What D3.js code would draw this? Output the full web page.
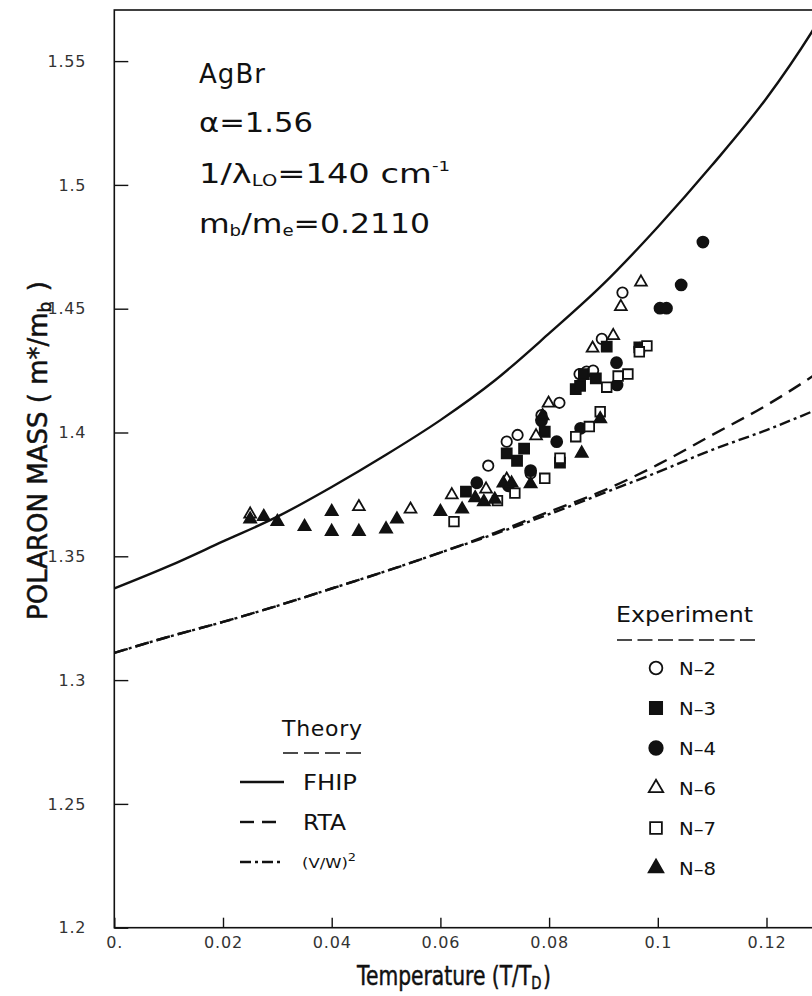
<!DOCTYPE html>
<html>
<head>
  <meta charset="UTF-8" />
  <title>AgBr polaron mass</title>
  <script src="https://d3js.org/d3.v7.min.js"></script>
  <style>
    body { margin: 0; background: #fff; }
    svg { display: block; }
    .cond { font-family: "DejaVu Sans", sans-serif; }
  </style>
</head>
<body>
  <div id="chart"></div>
  <script>
    // theory curves, sampled along T/T_D
    const curveT = [0, 0.01, 0.02, 0.03, 0.04, 0.05, 0.06, 0.07, 0.08, 0.09, 0.1, 0.11, 0.12, 0.1284, 0.132];
    const fhip   = [1.337, 1.346, 1.356, 1.366, 1.378, 1.391, 1.405, 1.421, 1.440, 1.460, 1.483, 1.508, 1.535, 1.562, 1.575];
    const rta    = [1.311, 1.3175, 1.3235, 1.330, 1.337, 1.344, 1.3515, 1.3595, 1.368, 1.3765, 1.387, 1.399, 1.411, 1.4226, 1.428];
    const vw2    = [1.311, 1.3175, 1.3235, 1.330, 1.337, 1.344, 1.3515, 1.359, 1.367, 1.3755, 1.384, 1.393, 1.401, 1.4085, 1.412];

    // experiment points [T/T_D, m*/m_b]
    const n2 = [[0.0935, 1.4565], [0.0897, 1.4378], [0.0856, 1.4236], [0.0869, 1.4246], [0.0881, 1.4250],
                [0.0819, 1.4120], [0.0786, 1.4070], [0.0742, 1.3990], [0.0722, 1.3963], [0.0688, 1.3866], [0.0766, 1.3835]];
    const n3 = [[0.0906, 1.4347], [0.0966, 1.4344], [0.0864, 1.4236], [0.0886, 1.4219], [0.0849, 1.4175],
                [0.0857, 1.4188], [0.0792, 1.4003], [0.0754, 1.3935], [0.0722, 1.3916], [0.0741, 1.3886],
                [0.0820, 1.3878], [0.0647, 1.3761]];
    const n4 = [[0.1083, 1.4769], [0.1043, 1.4596], [0.1004, 1.4502], [0.1016, 1.4502], [0.0967, 1.4341],
                [0.0924, 1.4282], [0.0925, 1.4192], [0.0858, 1.4017], [0.0814, 1.3963], [0.0786, 1.4048],
                [0.0766, 1.3846], [0.0667, 1.3797], [0.0725, 1.3785]];
    const n6 = [[0.0969, 1.4607], [0.0932, 1.4508], [0.0918, 1.4391], [0.0880, 1.4340], [0.0799, 1.4118],
                [0.0776, 1.3986], [0.0722, 1.3811], [0.0684, 1.3771], [0.0621, 1.3748], [0.025, 1.367],
                [0.045, 1.370], [0.0545, 1.369]];
    const n7 = [[0.0980, 1.4350], [0.0966, 1.4326], [0.0927, 1.4228], [0.0945, 1.4236], [0.0906, 1.4183],
                [0.0894, 1.4084], [0.0874, 1.4024], [0.0849, 1.3983], [0.0820, 1.3896], [0.0792, 1.3815],
                [0.0737, 1.3755], [0.0625, 1.364], [0.0705, 1.3725]];
    const n8 = [[0.0894, 1.4055], [0.0788, 1.4067], [0.0860, 1.3916], [0.0766, 1.3792], [0.0716, 1.3795],
                [0.0731, 1.3795], [0.0664, 1.3736], [0.025, 1.365], [0.0275, 1.366], [0.030, 1.364],
                [0.035, 1.362], [0.040, 1.368], [0.040, 1.360], [0.045, 1.360], [0.050, 1.361],
                [0.052, 1.365], [0.060, 1.368], [0.064, 1.369], [0.068, 1.372], [0.070, 1.373]];

    const xTicks = [0, 0.02, 0.04, 0.06, 0.08, 0.1, 0.12];
    const xTickLabels = ["0.", "0.02", "0.04", "0.06", "0.08", "0.1", "0.12"];
    const yTicks = [1.2, 1.25, 1.3, 1.35, 1.4, 1.45, 1.5, 1.55];
    const yTickLabels = ["1.2", "1.25", "1.3", "1.35", "1.4", "1.45", "1.5", "1.55"];

    const seriesNames = ["N–2", "N–3", "N–4", "N–6", "N–7", "N–8"];
    const seriesData = [n2, n3, n4, n6, n7, n8];
    const seriesShape = [d3.symbolCircle, d3.symbolSquare, d3.symbolCircle, d3.symbolTriangle, d3.symbolSquare, d3.symbolTriangle];
    const seriesFilled = [false, true, true, false, false, true];
    const seriesSize = [85, 100, 95, 60, 92, 62];

    const W = 812, H = 996;
    const mLeft = 114.3, mTop = 10, mBottom = 927.7;
    const FONT = "'DejaVu Sans', Verdana, sans-serif";

    const svg = d3.select("#chart").append("svg")
      .attr("width", W).attr("height", H);

    const x = d3.scaleLinear().domain([0, 0.132]).range([mLeft, mLeft + 0.132 * 5435]);
    const y = d3.scaleLinear().domain([1.2, 1.2 + (mBottom - mTop) / 2476]).range([mBottom, mTop]);

    svg.append("clipPath").attr("id", "plot-clip")
      .append("rect").attr("x", mLeft).attr("y", mTop)
      .attr("width", W - mLeft).attr("height", mBottom - mTop);

    // frame
    svg.append("rect")
      .attr("x", mLeft).attr("y", mTop)
      .attr("width", x.range()[1] - mLeft).attr("height", mBottom - mTop)
      .attr("fill", "none").attr("stroke", "#111").attr("stroke-width", 1.6);

    // axes, ticks pointing into the plot
    const xAxis = d3.axisBottom(x).tickValues(xTicks)
      .tickSizeInner(-10).tickSizeOuter(0).tickPadding(9)
      .tickFormat((d, i) => xTickLabels[i]);
    const yAxis = d3.axisLeft(y).tickValues(yTicks)
      .tickSizeInner(-14).tickSizeOuter(0).tickPadding(28)
      .tickFormat((d, i) => yTickLabels[i]);

    const gx = svg.append("g").attr("transform", "translate(0," + mBottom + ")").call(xAxis);
    const gy = svg.append("g").attr("transform", "translate(" + mLeft + ",0)").call(yAxis);
    [gx, gy].forEach(g => {
      g.select(".domain").remove();
      g.selectAll("line").attr("stroke", "#111").attr("stroke-width", 1.4);
      g.selectAll("text").attr("fill", "#333")
        .style("font-family", FONT).style("font-size", "16px").style("letter-spacing", "0.8px");
    });

    // theory curves
    const plot = svg.append("g").attr("clip-path", "url(#plot-clip)");
    const line = d3.line().x(d => x(d[0])).y(d => y(d[1])).curve(d3.curveMonotoneX);
    const curves = [
      { vals: fhip, dash: null },
      { vals: rta, dash: "14,8" },
      { vals: vw2, dash: "11,4,3,4" }
    ];
    curves.forEach(c => {
      plot.append("path")
        .datum(curveT.map((t, i) => [t, c.vals[i]]))
        .attr("d", line)
        .attr("fill", "none").attr("stroke", "#111").attr("stroke-width", 2.4)
        .attr("stroke-dasharray", c.dash);
    });

    // experiment points
    seriesData.forEach((pts, k) => {
      plot.selectAll(".s" + k).data(pts).enter().append("path")
        .attr("class", "s" + k)
        .attr("transform", d => "translate(" + x(d[0]) + "," + y(d[1]) + ")")
        .attr("d", d3.symbol().type(seriesShape[k]).size(seriesSize[k]))
        .attr("fill", seriesFilled[k] ? "#111" : "#fff")
        .attr("stroke", "#111").attr("stroke-width", 1.8);
    });

    // parameter block (glyphs stretched to the reference widths)
    const info = svg.append("g").attr("fill", "#111")
      .style("font-family", FONT).style("font-size", "26px");
    info.append("text").attr("x", 199).attr("y", 83).attr("textLength", 66).text("AgBr");
    info.append("text").attr("x", 199).attr("y", 132)
      .attr("textLength", 114).attr("lengthAdjust", "spacingAndGlyphs").text("α=1.56");
    const l3 = info.append("text").attr("x", 199).attr("y", 183)
      .attr("textLength", 251).attr("lengthAdjust", "spacingAndGlyphs");
    l3.append("tspan").text("1/λ");
    l3.append("tspan").attr("font-size", "15px").attr("dy", 3).text("LO");
    l3.append("tspan").attr("dy", -3).text("=140  cm");
    l3.append("tspan").attr("font-size", "14px").attr("dy", -12).text("-1");
    const l4 = info.append("text").attr("x", 199).attr("y", 233)
      .attr("textLength", 231).attr("lengthAdjust", "spacingAndGlyphs");
    l4.append("tspan").text("m");
    l4.append("tspan").attr("font-size", "15px").attr("dy", 3).text("b");
    l4.append("tspan").attr("dy", -3).text("/m");
    l4.append("tspan").attr("font-size", "15px").attr("dy", 3).text("e");
    l4.append("tspan").attr("dy", -3).text("=0.2110");

    // axis titles: narrow look by squeezing the glyph box horizontally
    svg.append("text").attr("class", "cond")
      .attr("transform", "translate(357,985) scale(0.78,1)")
      .attr("fill", "#111").attr("stroke", "#111").attr("stroke-width", 0.5)
      .style("font-size", "26px")
      .call(t => {
        t.append("tspan").text("Temperature (T/T");
        t.append("tspan").attr("font-size", "17px").attr("dy", 4).text("D");
        t.append("tspan").attr("dy", -4).attr("dx", 2).text(")");
      });
    svg.append("text").attr("class", "cond")
      .attr("transform", "translate(47,620) rotate(-90)")
      .attr("fill", "#111").attr("stroke", "#111").attr("stroke-width", 0.5)
      .style("font-size", "26px")
      .call(t => {
        t.append("tspan").text("POLARON MASS  ( m*/m");
        t.append("tspan").attr("font-size", "17px").attr("dy", 4).text("b");
        t.append("tspan").attr("dy", -4).attr("dx", 2).text(" )");
      });

    // theory legend
    const leg = svg.append("g").attr("fill", "#111").style("font-family", FONT);
    leg.append("text").attr("x", 282).attr("y", 736).attr("textLength", 80).style("font-size", "22px").text("Theory");
    leg.append("line").attr("x1", 283).attr("x2", 362).attr("y1", 753).attr("y2", 753)
      .attr("stroke", "#111").attr("stroke-width", 1.6).attr("stroke-dasharray", "15,6");
    const theoryNames = ["FHIP", "RTA"];
    const theoryWidths = [54, 43];
    curves.forEach((c, i) => {
      const yy = 782 + i * 40;
      leg.append("line").attr("x1", 240).attr("x2", 284).attr("y1", yy).attr("y2", yy)
        .attr("stroke", "#111").attr("stroke-width", 2.4).attr("stroke-dasharray", c.dash);
      if (i < 2) {
        leg.append("text").attr("x", 303).attr("y", yy + 8).attr("textLength", theoryWidths[i])
          .attr("lengthAdjust", "spacingAndGlyphs").style("font-size", "22px").text(theoryNames[i]);
      } else {
        const t = leg.append("text").attr("x", 302).attr("y", yy + 6).attr("textLength", 54)
          .attr("lengthAdjust", "spacingAndGlyphs").style("font-size", "14px");
        t.append("tspan").text("(V/W)");
        t.append("tspan").attr("font-size", "11px").attr("dy", -7).text("2");
      }
    });

    // experiment legend
    leg.append("text").attr("x", 616).attr("y", 622).attr("textLength", 137)
      .attr("lengthAdjust", "spacingAndGlyphs").style("font-size", "22px").text("Experiment");
    leg.append("line").attr("x1", 617).attr("x2", 755).attr("y1", 640).attr("y2", 640)
      .attr("stroke", "#111").attr("stroke-width", 1.6).attr("stroke-dasharray", "15,5.5");
    seriesNames.forEach((name, k) => {
      const yy = 668 + k * 40;
      leg.append("path")
        .attr("transform", "translate(656," + yy + ")")
        .attr("d", d3.symbol().type(seriesShape[k]).size(seriesSize[k] * 1.5))
        .attr("fill", seriesFilled[k] ? "#111" : "#fff")
        .attr("stroke", "#111").attr("stroke-width", 1.8);
      leg.append("text").attr("x", 679).attr("y", yy + 7).attr("textLength", 37)
        .attr("lengthAdjust", "spacingAndGlyphs").style("font-size", "18px").text(name);
    });
  </script>
</body>
</html>
